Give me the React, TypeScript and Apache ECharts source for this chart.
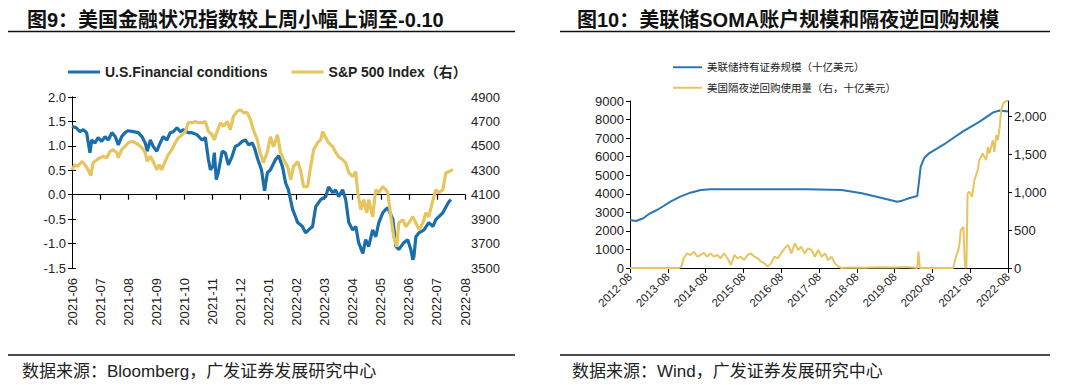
import React, { useEffect, useRef } from "react";
import * as echarts from "echarts";

// ---------- Left chart: US Financial Conditions vs S&P 500 ----------
const monthLabels = [
  "2021-06", "2021-07", "2021-08", "2021-09", "2021-10", "2021-11", "2021-12",
  "2022-01", "2022-02", "2022-03", "2022-04", "2022-05", "2022-06", "2022-07", "2022-08",
];

// position in months since 2021-06
const fciMonths = [
  0, 0.15, 0.28, 0.4, 0.52, 0.64, 0.7, 0.82, 0.93, 1.06, 1.18, 1.29, 1.42, 1.54, 1.65, 1.77, 1.89, 2.0,
  2.18, 2.36, 2.49, 2.61, 2.68, 2.79, 2.89, 3.02, 3.14, 3.25, 3.38, 3.5, 3.61, 3.74, 3.86, 3.96, 4.14,
  4.27, 4.45, 4.63, 4.75, 4.86, 4.93, 5.02, 5.07, 5.14, 5.21, 5.35, 5.46, 5.57, 5.7, 5.82, 5.93, 6.06,
  6.18, 6.29, 6.42, 6.5, 6.62, 6.75, 6.86, 6.96, 7.07, 7.25, 7.36, 7.5, 7.61, 7.71, 7.86, 8.04, 8.21,
  8.32, 8.43, 8.57, 8.68, 8.86, 9.04, 9.14, 9.29, 9.39, 9.5, 9.64, 9.75, 9.86, 10.0, 10.11, 10.21,
  10.36, 10.46, 10.57, 10.71, 10.82, 10.93, 11.07, 11.18, 11.25, 11.43, 11.54, 11.64, 11.82, 11.96,
  12.07, 12.14, 12.18, 12.25, 12.36, 12.54, 12.71, 12.86, 12.96, 13.07, 13.21, 13.32, 13.43, 13.5,
];
const fciValues = [
  1.40, 1.37, 1.29, 1.33, 1.27, 0.86, 1.12, 1.06, 1.17, 1.09, 1.19, 1.12, 1.27, 1.19, 1.02, 1.19, 1.27, 1.31,
  1.29, 1.27, 1.19, 1.06, 0.89, 1.12, 0.99, 0.89, 1.06, 1.19, 1.12, 1.27, 1.29, 1.37, 1.29, 1.33, 1.27,
  1.27, 1.23, 1.12, 1.17, 0.72, 0.51, 0.58, 0.86, 0.31, 0.45, 0.89, 0.86, 0.61, 0.78, 0.99, 1.02, 1.09,
  1.12, 1.02, 1.06, 0.96, 0.72, 0.51, 0.08, 0.45, 0.51, 0.72, 0.80, 0.57, 0.24, 0.10, -0.30, -0.57, -0.65,
  -0.78, -0.72, -0.65, -0.25, -0.10, -0.04, 0.16, 0.04, 0.10, -0.04, 0.10, -0.10, -0.57, -0.72, -0.65, -0.98,
  -1.20, -0.92, -1.06, -0.72, -0.86, -0.57, -0.37, -0.30, -0.27, -0.50, -1.06, -1.12, -0.98, -0.92,
  -1.12, -1.33, -1.27, -0.86, -0.78, -0.72, -0.57, -0.65, -0.51, -0.45, -0.37, -0.25, -0.14, -0.10,
];

const spxMonths = [
  0, 0.1, 0.21, 0.35, 0.46, 0.57, 0.67, 0.75, 0.89, 1.0, 1.11, 1.24, 1.36, 1.46, 1.6, 1.65, 1.77, 1.89,
  2.0, 2.14, 2.25, 2.36, 2.49, 2.61, 2.68, 2.79, 2.89, 3.02, 3.11, 3.2, 3.32, 3.43, 3.56, 3.68, 3.79,
  3.93, 4.04, 4.14, 4.28, 4.39, 4.5, 4.63, 4.75, 4.86, 4.99, 5.07, 5.17, 5.29, 5.39, 5.53, 5.64, 5.75,
  5.88, 6.0, 6.11, 6.24, 6.36, 6.46, 6.6, 6.7, 6.82, 6.96, 7.07, 7.18, 7.32, 7.43, 7.54, 7.68, 7.79,
  7.89, 8.04, 8.14, 8.25, 8.39, 8.5, 8.61, 8.75, 8.86, 8.93, 9.04, 9.14, 9.29, 9.4, 9.5, 9.64, 9.75,
  9.86, 10.0, 10.11, 10.18, 10.29, 10.39, 10.5, 10.57, 10.71, 10.82, 10.93, 11.07, 11.18, 11.25, 11.36,
  11.46, 11.57, 11.64, 11.79, 11.89, 12.0, 12.14, 12.25, 12.36, 12.5, 12.61, 12.71, 12.86, 12.96, 13.07,
  13.21, 13.32, 13.43, 13.57,
];
const spxValues = [
  4305, 4346, 4332, 4373, 4346, 4305, 4256, 4362, 4387, 4403, 4414, 4403, 4455, 4469, 4444, 4403, 4469, 4496,
  4526, 4537, 4526, 4510, 4485, 4444, 4373, 4414, 4373, 4305, 4346, 4305, 4373, 4428, 4469, 4526, 4567,
  4591, 4618, 4690, 4690, 4700, 4690, 4690, 4700, 4618, 4591, 4550, 4618, 4690, 4660, 4700, 4632, 4741,
  4782, 4796, 4772, 4772, 4714, 4632, 4550, 4444, 4362, 4452, 4575, 4493, 4591, 4444, 4387, 4330, 4223,
  4330, 4371, 4305, 4166, 4166, 4330, 4469, 4526, 4550, 4616, 4567, 4526, 4493, 4444, 4411, 4387, 4362,
  4280, 4248, 4289, 4116, 3977, 4059, 3952, 4059, 3920, 4141, 4116, 4166, 4141, 4116, 3920,
  3756, 3674, 3870, 3895, 3838, 3870, 3920, 3870, 3813, 3870, 3952, 3920, 4059, 4141, 4116,
  4141, 4280, 4289, 4305,
];

const leftTicks = [3500, 3700, 3900, 4100, 4300, 4500, 4700, 4900];

// ---------- Right chart: SOMA holdings vs ON RRP ----------
const yearLabels = [
  "2012-08", "2013-08", "2014-08", "2015-08", "2016-08", "2017-08",
  "2018-08", "2019-08", "2020-08", "2021-08", "2022-08",
];

// position in years since 2012-08
const somaYears = [
  0, 0.16, 0.35, 0.53, 0.71, 0.89, 1.07, 1.33, 1.6, 1.87, 2.13, 2.6, 3.0, 3.5, 4.0, 4.7, 5.0, 5.6,
  6.13, 6.58, 7.07, 7.2, 7.38, 7.6, 7.64, 7.69, 7.78, 7.91, 8.35, 8.8, 9.25, 9.6, 9.78, 10.0,
];
const somaValues = [
  2587, 2533, 2679, 2948, 3126, 3342, 3574, 3843, 4059, 4204, 4242, 4250, 4242, 4245, 4240, 4242, 4230, 4204,
  4026, 3810, 3574, 3629, 3756, 3880, 4565, 5460, 5913, 6182, 6721, 7350, 7889, 8376, 8484, 8430,
];

const rrpYears = [
  0, 1.3, 1.36, 1.42, 1.51, 1.6, 1.69, 1.78, 1.87, 1.95, 2.04, 2.13, 2.22, 2.31, 2.4, 2.49, 2.58, 2.67,
  2.76, 2.84, 2.93, 3.02, 3.11, 3.2, 3.29, 3.38, 3.47, 3.56, 3.64, 3.73, 3.82, 3.91, 4.0, 4.09, 4.18,
  4.27, 4.36, 4.45, 4.53, 4.62, 4.71, 4.8, 4.89, 4.98, 5.07, 5.16, 5.24, 5.33, 5.42, 5.51, 5.6, 5.8,
  6.2, 6.6, 7.0, 7.3, 7.55, 7.6, 7.63, 7.67, 8.55, 8.61, 8.71, 8.75, 8.82, 8.86, 8.9, 8.93, 8.98,
  9.05, 9.11, 9.2, 9.24, 9.33, 9.42, 9.47, 9.51, 9.6, 9.64, 9.69, 9.73, 9.78, 9.82, 9.87, 9.95, 10.0,
];
const rrpValues = [
  0, 0, 20, 128, 193, 171, 215, 149, 171, 202, 149, 193, 149, 171, 128, 193, 128, 39,
  171, 128, 149, 105, 171, 193, 149, 128, 83, 61, 18, 61, 149, 128, 193, 259, 303,
  193, 325, 237, 281, 193, 259, 237, 149, 237, 149, 193, 105, 149, 61, 18, 0, 6,
  4, 9, 5, 12, 3, 0, 215, 0, 0, 128, 281, 500, 543, 30, 0, 982, 1004,
  938, 1158, 1290, 1421, 1509, 1421, 1596, 1509, 1684, 1531, 1750, 1684, 1860, 2079, 2167, 2200, 2200,
];

const rightTicks = [0, 500, 1000, 1500, 2000];

const FONT = "'Liberation Sans', Arial, 'Noto Sans CJK SC', sans-serif";
const BLUE = "#1B6EAC";
const YELLOW = "#E6C55F";
const BLUE2 = "#2C76B5";
const YELLOW2 = "#E8C45E";
const AXIS = "#000";
const LABEL = "#222";

export default function App() {
  const ref = useRef<HTMLDivElement>(null);

  useEffect(() => {
    if (!ref.current) return;
    const chart = echarts.init(ref.current, null, { renderer: "svg" });

    const axisLine = { show: true, lineStyle: { color: AXIS, width: 1 } };
    const axisTick = { show: true, length: 4, lineStyle: { color: AXIS, width: 1 } };

    chart.setOption({
      animation: false,
      backgroundColor: "#fff",
      textStyle: { fontFamily: FONT },
      title: [
        {
          text: "图9：美国金融状况指数较上周小幅上调至-0.10",
          left: 22,
          top: 5,
          textStyle: { fontSize: 20, fontWeight: "bold", color: "#111", fontFamily: FONT },
        },
        {
          text: "图10：美联储SOMA账户规模和隔夜逆回购规模",
          left: 572,
          top: 5,
          textStyle: { fontSize: 20, fontWeight: "bold", color: "#111", fontFamily: FONT },
        },
      ],
      legend: [
        {
          data: ["U.S.Financial conditions", "S&P 500 Index（右）"],
          left: 63,
          top: 60,
          icon: "rect",
          itemWidth: 32,
          itemHeight: 3,
          itemGap: 24,
          textStyle: { fontSize: 14, fontWeight: "bold", color: LABEL, fontFamily: FONT },
        },
        {
          data: ["美联储持有证券规模（十亿美元）", "美国隔夜逆回购使用量（右，十亿美元）"],
          left: 668,
          top: 57,
          orient: "vertical",
          icon: "rect",
          itemWidth: 29,
          itemHeight: 2,
          itemGap: 10,
          textStyle: { fontSize: 10.5, color: LABEL, fontFamily: FONT },
        },
      ],
      grid: [
        { left: 72, top: 97, width: 393, height: 171, containLabel: false },
        { left: 630, top: 101, width: 378, height: 167, containLabel: false },
      ],
      xAxis: [
        {
          gridIndex: 0,
          type: "value",
          min: 0,
          max: 14,
          interval: 1,
          position: "bottom",
          axisLine: { show: false, onZero: false },
          axisTick: { show: false },
          splitLine: { show: false },
          axisLabel: {
            rotate: 90,
            margin: 10,
            fontSize: 13,
            color: LABEL,
            formatter: (v: number) => monthLabels[Math.round(v)] ?? "",
          },
        },
        {
          gridIndex: 0,
          type: "value",
          min: 0,
          max: 14,
          interval: 1,
          position: "bottom",
          axisLine: { show: true, onZero: true, lineStyle: { color: AXIS, width: 1.2 } },
          axisTick: { show: true, length: 5, lineStyle: { color: AXIS, width: 1.2 } },
          axisLabel: { show: false },
          splitLine: { show: false },
        },
        {
          gridIndex: 1,
          type: "value",
          min: 0,
          max: 10,
          interval: 1,
          position: "bottom",
          axisLine: { ...axisLine, onZero: false },
          axisTick: { ...axisTick, length: 5 },
          splitLine: { show: false },
          axisLabel: {
            rotate: 45,
            margin: 7,
            fontSize: 11.5,
            color: LABEL,
            formatter: (v: number) => yearLabels[Math.round(v)] ?? "",
          },
        },
      ],
      yAxis: [
        {
          gridIndex: 0,
          type: "value",
          min: -1.5,
          max: 2,
          interval: 0.5,
          position: "left",
          axisLine,
          axisTick,
          splitLine: { show: false },
          axisLabel: { fontSize: 13, color: LABEL, margin: 6, formatter: (v: number) => v.toFixed(1) },
        },
        {
          gridIndex: 0,
          type: "value",
          min: 3500,
          max: 4900,
          position: "right",
          axisLine,
          axisTick: { ...axisTick, customValues: leftTicks },
          splitLine: { show: false },
          axisLabel: {
            fontSize: 13,
            color: LABEL,
            margin: 6,
            customValues: leftTicks,
            formatter: (v: number) => String(v),
          },
        },
        {
          gridIndex: 1,
          type: "value",
          min: 0,
          max: 9000,
          interval: 1000,
          position: "left",
          axisLine,
          axisTick,
          splitLine: { show: false },
          axisLabel: { fontSize: 13, color: LABEL, margin: 6, formatter: (v: number) => String(v) },
        },
        {
          gridIndex: 1,
          type: "value",
          min: 0,
          max: 2200,
          position: "right",
          axisLine,
          axisTick: { ...axisTick, customValues: rightTicks },
          splitLine: { show: false },
          axisLabel: {
            fontSize: 13,
            color: LABEL,
            margin: 6,
            customValues: rightTicks,
            formatter: (v: number) => v.toLocaleString("en-US"),
          },
        },
      ],
      series: [
        {
          type: "line",
          name: "U.S.Financial conditions",
          xAxisIndex: 0,
          yAxisIndex: 0,
          showSymbol: false,
          symbol: "none",
          data: fciMonths.map((m, i) => [m, fciValues[i]]),
          lineStyle: { color: BLUE, width: 3.2 },
          itemStyle: { color: BLUE },
        },
        {
          type: "line",
          name: "S&P 500 Index（右）",
          xAxisIndex: 0,
          yAxisIndex: 1,
          showSymbol: false,
          symbol: "none",
          data: spxMonths.map((m, i) => [m, spxValues[i]]),
          lineStyle: { color: YELLOW, width: 3.2 },
          itemStyle: { color: YELLOW },
        },
        {
          type: "line",
          name: "美联储持有证券规模（十亿美元）",
          xAxisIndex: 2,
          yAxisIndex: 2,
          showSymbol: false,
          symbol: "none",
          data: somaYears.map((t, i) => [t, somaValues[i]]),
          lineStyle: { color: BLUE2, width: 2 },
          itemStyle: { color: BLUE2 },
        },
        {
          type: "line",
          name: "美国隔夜逆回购使用量（右，十亿美元）",
          xAxisIndex: 2,
          yAxisIndex: 3,
          showSymbol: false,
          symbol: "none",
          data: rrpYears.map((t, i) => [t, rrpValues[i]]),
          lineStyle: { color: YELLOW2, width: 2 },
          itemStyle: { color: YELLOW2 },
        },
      ],
      graphic: [
        { type: "line", shape: { x1: 8, y1: 31.5, x2: 515, y2: 31.5 }, style: { stroke: "#111", lineWidth: 1.5 } },
        { type: "line", shape: { x1: 560, y1: 31.5, x2: 1050, y2: 31.5 }, style: { stroke: "#111", lineWidth: 1.5 } },
        { type: "line", shape: { x1: 8, y1: 355, x2: 515, y2: 355 }, style: { stroke: "#111", lineWidth: 1.5 } },
        { type: "line", shape: { x1: 560, y1: 355, x2: 1050, y2: 355 }, style: { stroke: "#111", lineWidth: 1.5 } },
        {
          type: "text",
          x: 22,
          y: 371,
          style: {
            text: "数据来源：Bloomberg，广发证券发展研究中心",
            fontSize: 17,
            fontFamily: FONT,
            fill: "#222",
            verticalAlign: "middle",
          },
        },
        {
          type: "text",
          x: 572,
          y: 371,
          style: {
            text: "数据来源：Wind，广发证券发展研究中心",
            fontSize: 17,
            fontFamily: FONT,
            fill: "#222",
            verticalAlign: "middle",
          },
        },
      ],
    });

    return () => chart.dispose();
  }, []);

  return (
    <div
      ref={ref}
      style={{ position: "absolute", left: 0, top: 0, width: 1080, height: 385, background: "#fff" }}
    />
  );
}
